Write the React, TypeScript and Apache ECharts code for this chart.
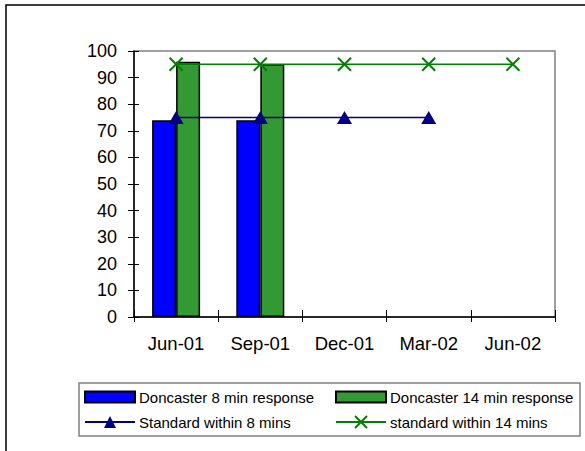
import React, { useEffect, useRef } from "react";
import * as echarts from "echarts";

const categories = ["Jun-01", "Sep-01", "Dec-01", "Mar-02", "Jun-02"];
const doncaster8 = [74, 74, null, null, null];
const doncaster14 = [96, 95, null, null, null];
const standard8 = [75, 75, 75, 75, null];
const standard14 = [95, 95, 95, 95, 95];
const yTicks = { min: 0, max: 100, interval: 10 };

const FONT = 'Arial, "Liberation Sans", sans-serif';

export default function App() {
  const ref = useRef<HTMLDivElement>(null);
  useEffect(() => {
    if (!ref.current) return;
    const chart = echarts.init(ref.current, null, { renderer: "svg" });
    const crossPath = "path://M0,0L10,10M10,0L0,10";
    const legendBase = {
      selectedMode: false,
      orient: "horizontal" as const,
      itemWidth: 50,
      itemHeight: 11,
      itemGap: 4,
      padding: 0,
      textStyle: { fontSize: 15, fontFamily: FONT, color: "#000", lineHeight: 16, padding: [0, 0, 0, -1] },
    };
    const lineLegend = { ...legendBase, itemHeight: 15 };
    chart.setOption({
      animation: false,
      backgroundColor: "#fff",
      textStyle: { fontFamily: FONT },
      grid: {
        left: 134,
        top: 51,
        width: 421,
        height: 266,
        show: true,
        borderColor: "#808080",
        borderWidth: 1.5,
        backgroundColor: "transparent",
      },
      xAxis: [
        {
          type: "category",
          data: categories,
          boundaryGap: true,
          axisLine: { lineStyle: { color: "#000", width: 1.5 } },
          axisTick: { show: true, inside: false, length: 5, lineStyle: { color: "#000", width: 1 } },
          axisLabel: { fontSize: 18.5, color: "#000", fontFamily: FONT, margin: 17 },
          splitLine: { show: false },
        },
        {
          type: "category",
          data: categories,
          position: "bottom",
          boundaryGap: true,
          axisLine: { show: false },
          axisTick: { show: true, inside: true, length: 7, lineStyle: { color: "#000", width: 1 } },
          axisLabel: { show: false },
          splitLine: { show: false },
        },
      ],
      yAxis: [
        {
          type: "value",
          min: yTicks.min,
          max: yTicks.max,
          interval: yTicks.interval,
          axisLine: { show: true, lineStyle: { color: "#000", width: 1.5 } },
          axisTick: { show: true, inside: false, length: 6, lineStyle: { color: "#000", width: 1 } },
          axisLabel: { fontSize: 18, color: "#000", fontFamily: FONT, margin: 17 },
          splitLine: { show: false },
        },
        {
          type: "value",
          min: yTicks.min,
          max: yTicks.max,
          interval: yTicks.interval,
          position: "left",
          axisLine: { show: false },
          axisTick: { show: true, inside: true, length: 5, lineStyle: { color: "#000", width: 1 } },
          axisLabel: { show: false },
          splitLine: { show: false },
        },
      ],
      legend: [
        { ...legendBase, left: 84, top: 389, data: [{ name: "Doncaster 8 min response", icon: "rect" }] },
        { ...legendBase, left: 335, top: 389, data: [{ name: "Doncaster 14 min response", icon: "rect" }] },
        { ...lineLegend, left: 84, top: 414, data: ["Standard within 8 mins"] },
        { ...lineLegend, left: 335, top: 414, data: ["standard within 14 mins"] },
      ],
      graphic: [
        {
          type: "rect",
          shape: { x: 6, y: 5, width: 620, height: 480 },
          style: { fill: "none", stroke: "#000", lineWidth: 1.5 },
          silent: true,
          z: 100,
        },
        {
          type: "rect",
          shape: { x: 79, y: 383, width: 501, height: 53 },
          style: { fill: "none", stroke: "#808080", lineWidth: 1.5 },
          silent: true,
          z: 100,
        },
      ],
      series: [
        {
          name: "Doncaster 8 min response",
          type: "bar",
          data: doncaster8,
          barWidth: 24,
          barGap: "0%",
          itemStyle: { color: "#0000FF", borderColor: "#000", borderWidth: 1.5 },
        },
        {
          name: "Doncaster 14 min response",
          type: "bar",
          data: doncaster14,
          barWidth: 24,
          barGap: "0%",
          itemStyle: { color: "#339933", borderColor: "#000", borderWidth: 1.5 },
        },
        {
          name: "Standard within 8 mins",
          type: "line",
          data: standard8,
          symbol: "triangle",
          symbolSize: [15, 13],
          lineStyle: { color: "#000080", width: 1.5 },
          itemStyle: { color: "#000080" },
          z: 5,
        },
        {
          name: "standard within 14 mins",
          type: "line",
          data: standard14,
          symbol: crossPath,
          symbolSize: 13,
          symbolKeepAspect: true,
          lineStyle: { color: "#008000", width: 1.5 },
          itemStyle: { color: "#008000", borderColor: "#008000", borderWidth: 2 },
          z: 5,
        },
      ],
    });
    return () => chart.dispose();
  }, []);
  return (
    <div
      ref={ref}
      style={{ position: "absolute", left: 0, top: 0, width: 585, height: 451 }}
    />
  );
}
